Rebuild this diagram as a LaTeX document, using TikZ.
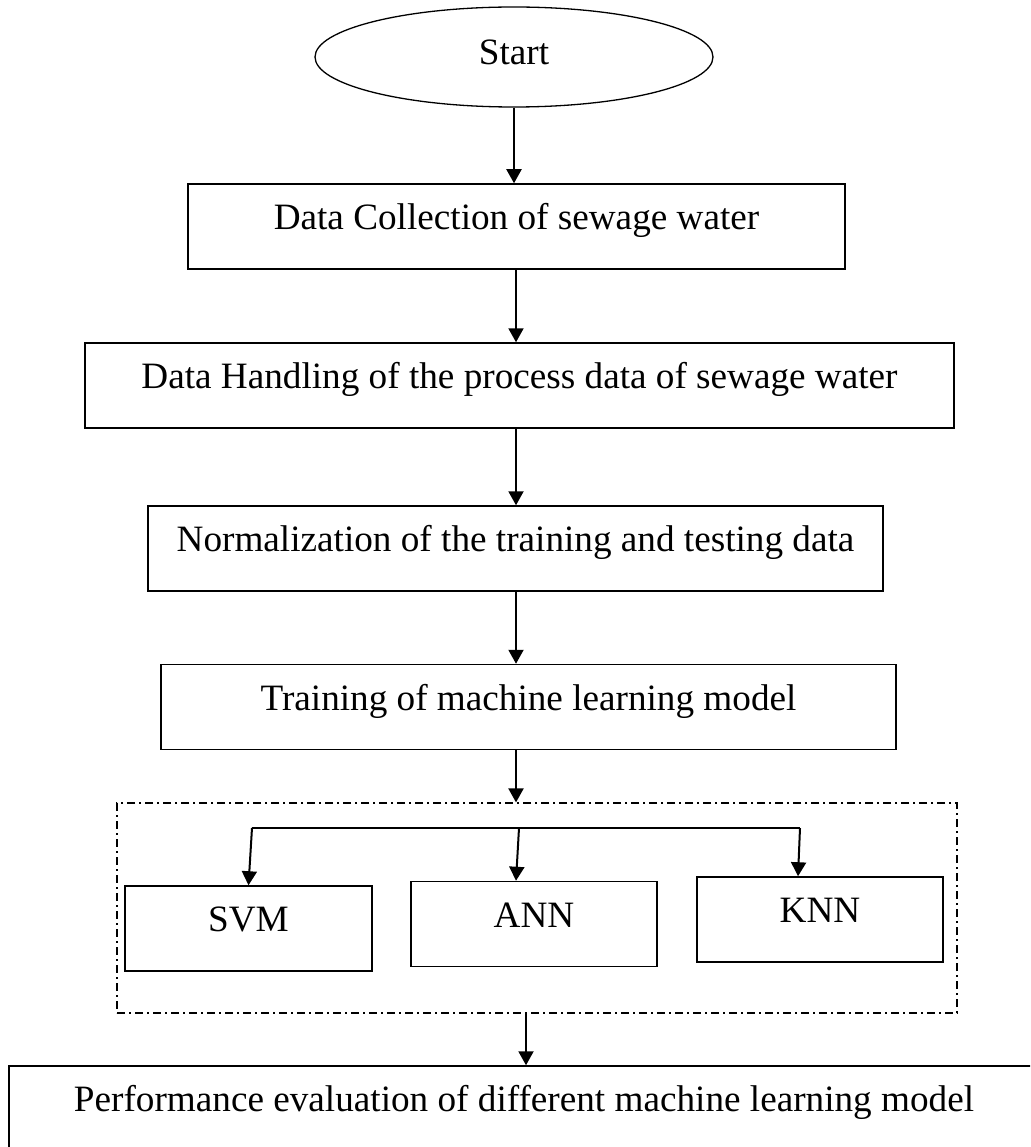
\documentclass[tikz,border=0pt]{standalone}
\usepackage{fontspec}
\setmainfont{Liberation Serif}
\usetikzlibrary{arrows.meta,shapes.geometric}

\tikzset{
  flowbox/.style={draw=black, line width=1.5pt, rectangle, inner sep=0pt,
    minimum height=85pt, text height=24pt, text depth=18pt,
    font=\fontsize{37.2}{40}\selectfont},
  startshape/.style={draw=black, line width=1.3pt, ellipse, inner sep=0pt,
    minimum width=398pt, minimum height=100pt, text height=24pt, text depth=8pt,
    font=\fontsize{37.2}{40}\selectfont},
  groupbox/.style={draw=black, line width=1.2pt, rectangle, inner sep=0pt,
    dash pattern=on 8pt off 4pt on 2pt off 4pt},
  flowarrow/.style={draw=black, line width=2pt, -{Triangle[width=15pt,length=14pt]}},
  branchline/.style={draw=black, line width=2pt}
}

\begin{document}
\begin{tikzpicture}[x=1pt, y=-1pt]
  \useasboundingbox (0,0) rectangle (1030,1147);
  \clip (0,0) rectangle (1030,1147);
  \fill[white] (0,0) rectangle (1030,1147);

  % main column
  \node[startshape] (start) at (514,57) {Start};
  \node[flowbox, minimum width=657pt] (collect) at (516.5,226.5) {Data Collection of sewage water};
  \node[flowbox, minimum width=869pt] (handle) at (519.5,385.5) {Data Handling of the process data of sewage water};
  \node[flowbox, minimum width=735pt] (norm) at (515.5,548.5) {Normalization of the training and testing data};
  \node[flowbox, minimum width=735pt] (train) at (528.5,707) {Training of machine learning model};

  % group of the three models
  \node[groupbox, minimum width=840pt, minimum height=210pt] (group) at (537,908) {};
  \node[flowbox, minimum width=247pt] (svm) at (248.5,928.5) {SVM};
  \node[flowbox, minimum width=246pt] (ann) at (534,924) {ANN};
  \node[flowbox, minimum width=246pt] (knn) at (820,919.5) {KNN};

  % final step
  \node[flowbox, minimum width=1030pt] (perf) at (524,1108.5) {Performance evaluation of different machine learning model};

  % connectors
  \draw[flowarrow] (start.south) -- (start.south |- collect.north);
  \draw[flowarrow] (516,0 |- collect.south) -- (516,0 |- handle.north);
  \draw[flowarrow] (516,0 |- handle.south) -- (516,0 |- norm.north);
  \draw[flowarrow] (516,0 |- norm.south) -- (516,0 |- train.north);
  \draw[flowarrow] (516,0 |- train.south) -- (516,0 |- group.north);

  \coordinate (brL) at (252,828);
  \coordinate (brM) at (519,828);
  \coordinate (brR) at (800,828);
  \draw[branchline] (brL) -- (brR);
  \draw[flowarrow] (brL) -- (svm.north);
  \draw[flowarrow] (brM) -- (516,0 |- ann.north);
  \draw[flowarrow] (brR) -- (798,0 |- knn.north);

  \draw[flowarrow] (526,0 |- group.south) -- (526,0 |- perf.north);
\end{tikzpicture}
\end{document}
